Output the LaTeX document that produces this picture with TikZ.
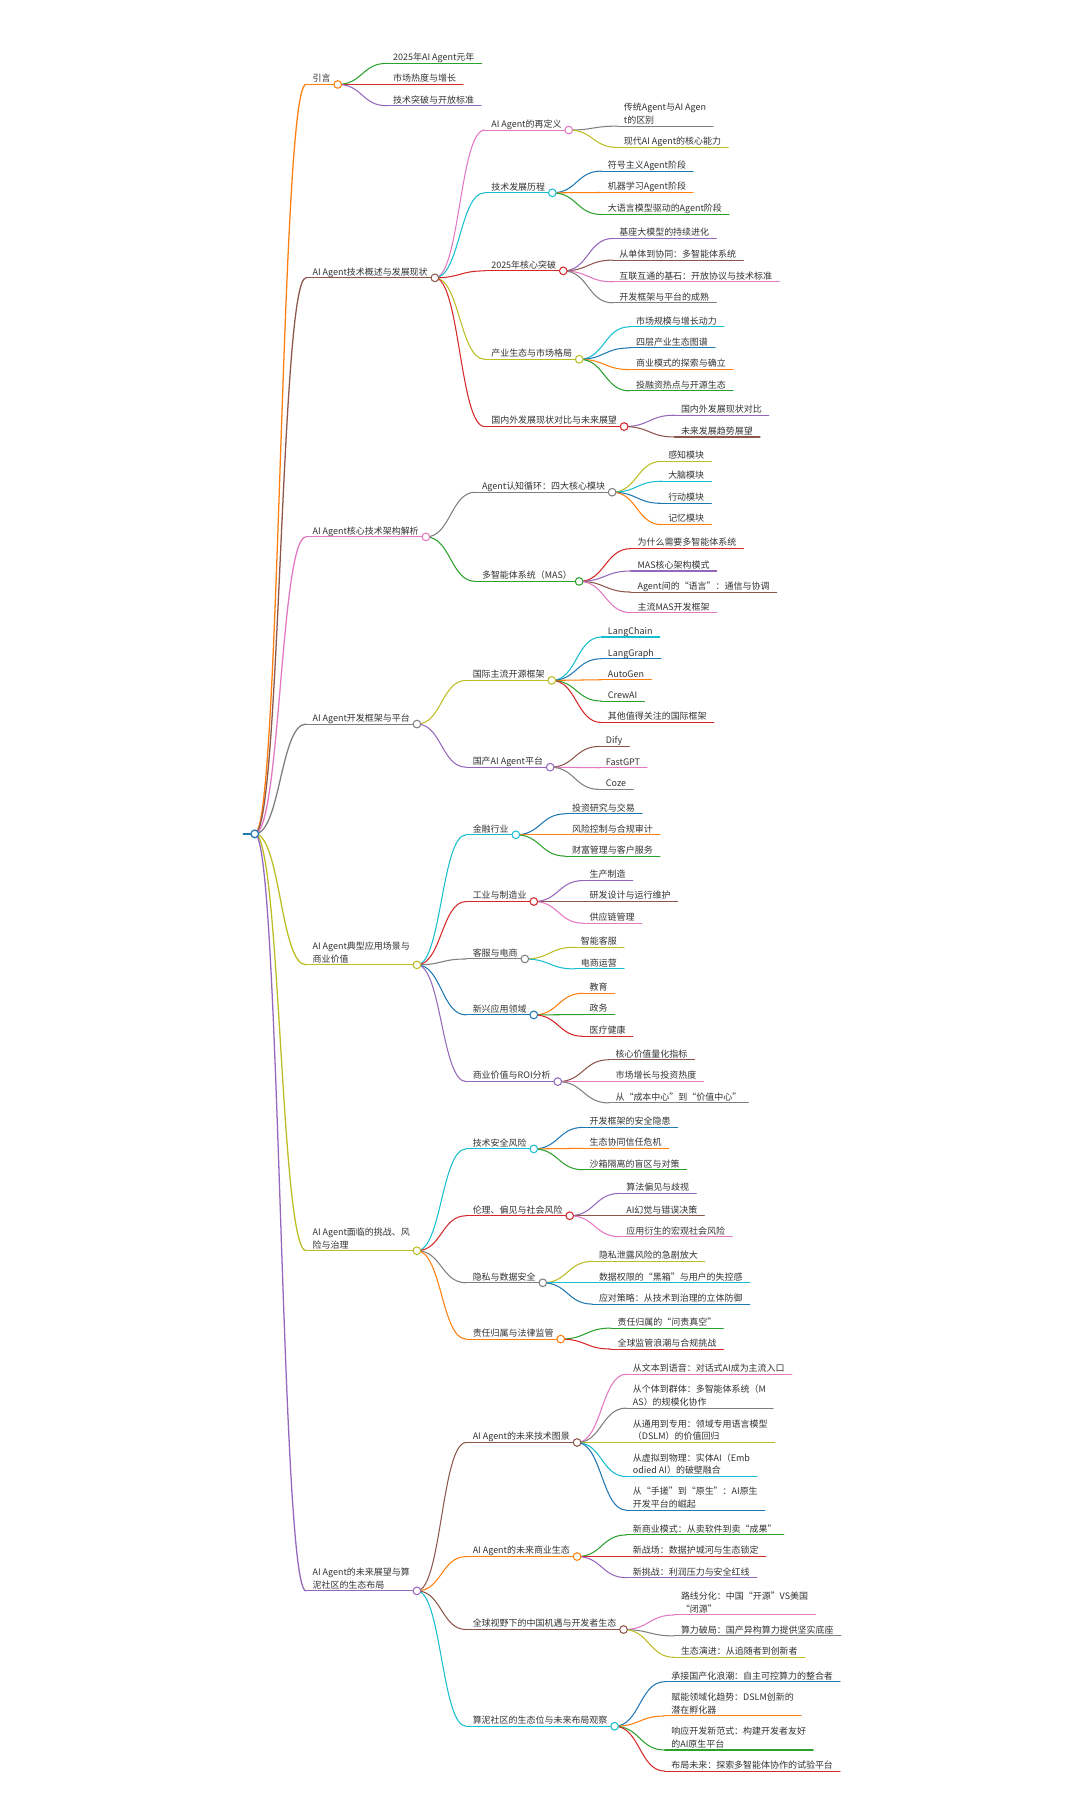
\documentclass[tikz,border=0pt]{standalone}
\usepackage{fontspec}
\setmainfont{Noto Sans CJK SC}
\usetikzlibrary{calc}
\definecolor{mblue}{HTML}{1F77B4}
\definecolor{morange}{HTML}{FF7F0E}
\definecolor{mgreen}{HTML}{2CA02C}
\definecolor{mred}{HTML}{D62728}
\definecolor{mpurple}{HTML}{9467BD}
\definecolor{mbrown}{HTML}{8C564B}
\definecolor{mpink}{HTML}{E377C2}
\definecolor{mgray}{HTML}{7F7F7F}
\definecolor{molive}{HTML}{BCBD22}
\definecolor{mcyan}{HTML}{17BECF}
\definecolor{txtc}{HTML}{333333}
\tikzset{
  mmtxt/.style={inner sep=0pt, anchor=base west, text=txtc, font=\fontsize{7.75}{11}\selectfont},
  mmline/.style={line width=0.9pt, line cap=round},
  mmroot/.style={line width=1.1pt, line cap=round},
}
\newcommand\mmnode[5]{%
  \node[mmtxt] (#1) at (#2,#3-2.3) {\begin{tabular}[b]{@{}l@{}}#5\end{tabular}};
  \path (#1.west |- 0,#3) ++(-5.5,0) coordinate (#1-s);
  \path (#1.east |- 0,#3) ++(6,0) coordinate (#1-e);
  \draw[mmline,#4] (#1-s) -- (#1-e);
}
\newcommand\mmedge[3]{%
  \path ($(#1-e)!0.5!(#2-s)$) coordinate (m#1#2);
  \draw[mmline,#3] (#1-e) .. controls (m#1#2 |- #1-e) and (m#1#2 |- #2-s) .. (#2-s);
}
\newcommand\mmdot[2]{%
  \draw[mmline,#2,fill=white] (#1-e) circle (3.3);
}
\begin{document}
\begin{tikzpicture}[x=1pt,y=-1pt]
\fill[white] (0,0) rectangle (933,1568);
\useasboundingbox (0,0) rectangle (933,1568);

% root
\coordinate (root-s) at (210,720);
\coordinate (root-e) at (220,720);
\draw[mmroot,mblue] (root-s) -- (root-e);

% level 1
\mmnode{n1}{269.7}{72.9}{morange}{引言}
\mmnode{n2}{269.7}{239.9}{mbrown}{AI Agent技术概述与发展现状}
\mmnode{n3}{269.7}{463.6}{mpink}{AI Agent核心技术架构解析}
\mmnode{n4}{269.7}{625.2}{mgray}{AI Agent开发框架与平台}
\mmnode{n5}{269.7}{833.1}{molive}{AI Agent典型应用场景与\\商业价值}
\mmnode{n6}{269.7}{1079.9}{molive}{AI Agent面临的挑战、风\\险与治理}
\mmnode{n7}{269.7}{1373.6}{mpurple}{AI Agent的未来展望与算\\泥社区的生态布局}

% n1
\mmnode{n1a}{339.3}{54.7}{mgreen}{2025年AI Agent元年}
\mmnode{n1b}{339.3}{72.9}{mred}{市场热度与增长}
\mmnode{n1c}{339.3}{91.3}{mpurple}{技术突破与开放标准}

% n2
\mmnode{n2a}{424}{112.3}{mpink}{AI Agent的再定义}
\mmnode{n2a1}{538.5}{108.9}{mgray}{传统Agent与AI Agen\\t的区别}
\mmnode{n2a2}{538.5}{127.3}{molive}{现代AI Agent的核心能力}
\mmnode{n2b}{424}{166.5}{mcyan}{技术发展历程}
\mmnode{n2b1}{524.7}{147.7}{mblue}{符号主义Agent阶段}
\mmnode{n2b2}{524.7}{166.2}{morange}{机器学习Agent阶段}
\mmnode{n2b3}{524.7}{185.2}{mgreen}{大语言模型驱动的Agent阶段}
\mmnode{n2c}{424}{233.9}{mred}{2025年核心突破}
\mmnode{n2c1}{534.6}{205.9}{mpurple}{基座大模型的持续进化}
\mmnode{n2c2}{534.6}{224.6}{mbrown}{从单体到协同：多智能体系统}
\mmnode{n2c3}{534.6}{243.3}{mpink}{互联互通的基石：开放协议与技术标准}
\mmnode{n2c4}{534.6}{261.5}{mgray}{开发框架与平台的成熟}
\mmnode{n2d}{424}{310.2}{molive}{产业生态与市场格局}
\mmnode{n2d1}{549}{282.2}{mcyan}{市场规模与增长动力}
\mmnode{n2d2}{549}{300.4}{mblue}{四层产业生态图谱}
\mmnode{n2d3}{549}{319.1}{morange}{商业模式的探索与确立}
\mmnode{n2d4}{549}{337.5}{mgreen}{投融资热点与开源生态}
\mmnode{n2e}{424}{368.3}{mred}{国内外发展现状对比与未来展望}
\mmnode{n2e1}{587.8}{358.5}{mpurple}{国内外发展现状对比}
\mmnode{n2e2}{587.8}{377.3}{mbrown}{未来发展趋势展望}

% n3
\mmnode{n3a}{416}{425}{mgray}{Agent认知循环：四大核心模块}
\mmnode{n3a1}{576.8}{398.3}{molive}{感知模块}
\mmnode{n3a2}{576.8}{415.5}{mcyan}{大脑模块}
\mmnode{n3a3}{576.8}{434.6}{mblue}{行动模块}
\mmnode{n3a4}{576.8}{453}{morange}{记忆模块}
\mmnode{n3b}{416}{502}{mgreen}{多智能体系统（MAS）}
\mmnode{n3b1}{550.3}{473.7}{mred}{为什么需要多智能体系统}
\mmnode{n3b2}{550.3}{493}{mpurple}{MAS核心架构模式}
\mmnode{n3b3}{550.3}{511.2}{mbrown}{Agent间的“语言”：通信与协调}
\mmnode{n3b4}{550.3}{529}{mpink}{主流MAS开发框架}

% n4
\mmnode{n4a}{408}{587.5}{molive}{国际主流开源框架}
\mmnode{n4a1}{524.7}{550}{mcyan}{LangChain}
\mmnode{n4a2}{524.7}{568.8}{mblue}{LangGraph}
\mmnode{n4a3}{524.7}{586.9}{morange}{AutoGen}
\mmnode{n4a4}{524.7}{605.3}{mgreen}{CrewAI}
\mmnode{n4a5}{524.7}{623.8}{mred}{其他值得关注的国际框架}
\mmnode{n4b}{408}{662.4}{mpurple}{国产AI Agent平台}
\mmnode{n4b1}{523}{644.5}{mbrown}{Dify}
\mmnode{n4b2}{523}{662.9}{mpink}{FastGPT}
\mmnode{n4b3}{523}{681.6}{mgray}{Coze}

% n5
\mmnode{n5a}{408}{720.8}{mcyan}{金融行业}
\mmnode{n5a1}{493.7}{702.7}{mblue}{投资研究与交易}
\mmnode{n5a2}{493.7}{720.8}{morange}{风险控制与合规审计}
\mmnode{n5a3}{493.7}{739.2}{mgreen}{财富管理与客户服务}
\mmnode{n5b}{408}{778.4}{mred}{工业与制造业}
\mmnode{n5b1}{509}{760.3}{mpurple}{生产制造}
\mmnode{n5b2}{509}{778.4}{mbrown}{研发设计与运行维护}
\mmnode{n5b3}{509}{797.1}{mpink}{供应链管理}
\mmnode{n5c}{408}{828}{mgray}{客服与电商}
\mmnode{n5c1}{501.4}{817.9}{molive}{智能客服}
\mmnode{n5c2}{501.4}{836.6}{mcyan}{电商运营}
\mmnode{n5d}{408}{876.3}{mblue}{新兴应用领域}
\mmnode{n5d1}{509}{857.6}{morange}{教育}
\mmnode{n5d2}{509}{876}{mgreen}{政务}
\mmnode{n5d3}{509}{894.8}{mred}{医疗健康}
\mmnode{n5e}{408}{933.9}{mpurple}{商业价值与ROI分析}
\mmnode{n5e1}{531.3}{915}{mbrown}{核心价值量化指标}
\mmnode{n5e2}{531.3}{933.9}{mpink}{市场增长与投资热度}
\mmnode{n5e3}{531.3}{952.3}{mgray}{从“成本中心”到“价值中心”}

% n6
\mmnode{n6a}{408}{992}{mcyan}{技术安全风险}
\mmnode{n6a1}{509}{973.4}{mblue}{开发框架的安全隐患}
\mmnode{n6a2}{509}{991.5}{morange}{生态协同信任危机}
\mmnode{n6a3}{509}{1010}{mgreen}{沙箱隔离的盲区与对策}
\mmnode{n6b}{408}{1049.7}{mred}{伦理、偏见与社会风险}
\mmnode{n6b1}{540.6}{1030.4}{mpurple}{算法偏见与歧视}
\mmnode{n6b2}{540.6}{1049.7}{mbrown}{AI幻觉与错误决策}
\mmnode{n6b3}{540.6}{1067.8}{mpink}{应用衍生的宏观社会风险}
\mmnode{n6c}{408}{1107.6}{mgray}{隐私与数据安全}
\mmnode{n6c1}{517}{1089.1}{molive}{隐私泄露风险的急剧放大}
\mmnode{n6c2}{517}{1107.6}{mcyan}{数据权限的“黑箱”与用户的失控感}
\mmnode{n6c3}{517}{1126}{mblue}{应对策略：从技术到治理的立体防御}
\mmnode{n6d}{408}{1156.2}{morange}{责任归属与法律监管}
\mmnode{n6d1}{533}{1146.7}{mgreen}{责任归属的“问责真空”}
\mmnode{n6d2}{533}{1164.8}{mred}{全球监管浪潮与合规挑战}

% n7
\mmnode{n7a}{408}{1245.5}{mbrown}{AI Agent的未来技术图景}
\mmnode{n7a1}{546.3}{1186.5}{mpink}{从文本到语音：对话式AI成为主流入口}
\mmnode{n7a2}{546.3}{1215.8}{mgray}{从个体到群体：多智能体系统（M\\AS）的规模化协作}
\mmnode{n7a3}{546.3}{1245.5}{molive}{从通用到专用：领域专用语言模型\\（DSLM）的价值回归}
\mmnode{n7a4}{546.3}{1274.9}{mcyan}{从虚拟到物理：实体AI（Emb\\odied AI）的破壁融合}
\mmnode{n7a5}{546.3}{1303.9}{mblue}{从“手搓”到“原生”：AI原生\\开发平台的崛起}
\mmnode{n7b}{408}{1344}{morange}{AI Agent的未来商业生态}
\mmnode{n7b1}{546.3}{1325.3}{mgreen}{新商业模式：从卖软件到卖“成果”}
\mmnode{n7b2}{546.3}{1344}{mred}{新战场：数据护城河与生态锁定}
\mmnode{n7b3}{546.3}{1362.2}{mpurple}{新挑战：利润压力与安全红线}
\mmnode{n7c}{408}{1407}{mbrown}{全球视野下的中国机遇与开发者生态}
\mmnode{n7c1}{587.8}{1394.4}{mpink}{路线分化：中国“开源”VS美国\\“闭源”}
\mmnode{n7c2}{587.8}{1412.5}{mgray}{算力破局：国产异构算力提供坚实底座}
\mmnode{n7c3}{587.8}{1431}{molive}{生态演进：从追随者到创新者}
\mmnode{n7d}{408}{1490.5}{mcyan}{算泥社区的生态位与未来布局观察}
\mmnode{n7d1}{579.5}{1452}{mblue}{承接国产化浪潮：自主可控算力的整合者}
\mmnode{n7d2}{579.5}{1481.6}{morange}{赋能领域化趋势：DSLM创新的\\潜在孵化器}
\mmnode{n7d3}{579.5}{1511}{mgreen}{响应开发新范式：构建开发者友好\\的AI原生平台}
\mmnode{n7d4}{579.5}{1529.2}{mred}{布局未来：探索多智能体协作的试验平台}

% edges root
\mmedge{root}{n1}{morange,mmroot}
\mmedge{root}{n2}{mbrown,mmroot}
\mmedge{root}{n3}{mpink,mmroot}
\mmedge{root}{n4}{mgray,mmroot}
\mmedge{root}{n5}{molive,mmroot}
\mmedge{root}{n6}{molive,mmroot}
\mmedge{root}{n7}{mpurple,mmroot}
% n1
\mmedge{n1}{n1a}{mgreen}
\mmedge{n1}{n1b}{mred}
\mmedge{n1}{n1c}{mpurple}
% n2
\mmedge{n2}{n2a}{mpink}
\mmedge{n2}{n2b}{mcyan}
\mmedge{n2}{n2c}{mred}
\mmedge{n2}{n2d}{molive}
\mmedge{n2}{n2e}{mred}
\mmedge{n2a}{n2a1}{mgray}
\mmedge{n2a}{n2a2}{molive}
\mmedge{n2b}{n2b1}{mblue}
\mmedge{n2b}{n2b2}{morange}
\mmedge{n2b}{n2b3}{mgreen}
\mmedge{n2c}{n2c1}{mpurple}
\mmedge{n2c}{n2c2}{mbrown}
\mmedge{n2c}{n2c3}{mpink}
\mmedge{n2c}{n2c4}{mgray}
\mmedge{n2d}{n2d1}{mcyan}
\mmedge{n2d}{n2d2}{mblue}
\mmedge{n2d}{n2d3}{morange}
\mmedge{n2d}{n2d4}{mgreen}
\mmedge{n2e}{n2e1}{mpurple}
\mmedge{n2e}{n2e2}{mbrown}
% n3
\mmedge{n3}{n3a}{mgray}
\mmedge{n3}{n3b}{mgreen}
\mmedge{n3a}{n3a1}{molive}
\mmedge{n3a}{n3a2}{mcyan}
\mmedge{n3a}{n3a3}{mblue}
\mmedge{n3a}{n3a4}{morange}
\mmedge{n3b}{n3b1}{mred}
\mmedge{n3b}{n3b2}{mpurple}
\mmedge{n3b}{n3b3}{mbrown}
\mmedge{n3b}{n3b4}{mpink}
% n4
\mmedge{n4}{n4a}{molive}
\mmedge{n4}{n4b}{mpurple}
\mmedge{n4a}{n4a1}{mcyan}
\mmedge{n4a}{n4a2}{mblue}
\mmedge{n4a}{n4a3}{morange}
\mmedge{n4a}{n4a4}{mgreen}
\mmedge{n4a}{n4a5}{mred}
\mmedge{n4b}{n4b1}{mbrown}
\mmedge{n4b}{n4b2}{mpink}
\mmedge{n4b}{n4b3}{mgray}
% n5
\mmedge{n5}{n5a}{mcyan}
\mmedge{n5}{n5b}{mred}
\mmedge{n5}{n5c}{mgray}
\mmedge{n5}{n5d}{mblue}
\mmedge{n5}{n5e}{mpurple}
\mmedge{n5a}{n5a1}{mblue}
\mmedge{n5a}{n5a2}{morange}
\mmedge{n5a}{n5a3}{mgreen}
\mmedge{n5b}{n5b1}{mpurple}
\mmedge{n5b}{n5b2}{mbrown}
\mmedge{n5b}{n5b3}{mpink}
\mmedge{n5c}{n5c1}{molive}
\mmedge{n5c}{n5c2}{mcyan}
\mmedge{n5d}{n5d1}{morange}
\mmedge{n5d}{n5d2}{mgreen}
\mmedge{n5d}{n5d3}{mred}
\mmedge{n5e}{n5e1}{mbrown}
\mmedge{n5e}{n5e2}{mpink}
\mmedge{n5e}{n5e3}{mgray}
% n6
\mmedge{n6}{n6a}{mcyan}
\mmedge{n6}{n6b}{mred}
\mmedge{n6}{n6c}{mgray}
\mmedge{n6}{n6d}{morange}
\mmedge{n6a}{n6a1}{mblue}
\mmedge{n6a}{n6a2}{morange}
\mmedge{n6a}{n6a3}{mgreen}
\mmedge{n6b}{n6b1}{mpurple}
\mmedge{n6b}{n6b2}{mbrown}
\mmedge{n6b}{n6b3}{mpink}
\mmedge{n6c}{n6c1}{molive}
\mmedge{n6c}{n6c2}{mcyan}
\mmedge{n6c}{n6c3}{mblue}
\mmedge{n6d}{n6d1}{mgreen}
\mmedge{n6d}{n6d2}{mred}
% n7
\mmedge{n7}{n7a}{mbrown}
\mmedge{n7}{n7b}{morange}
\mmedge{n7}{n7c}{mbrown}
\mmedge{n7}{n7d}{mcyan}
\mmedge{n7a}{n7a1}{mpink}
\mmedge{n7a}{n7a2}{mgray}
\mmedge{n7a}{n7a3}{molive}
\mmedge{n7a}{n7a4}{mcyan}
\mmedge{n7a}{n7a5}{mblue}
\mmedge{n7b}{n7b1}{mgreen}
\mmedge{n7b}{n7b2}{mred}
\mmedge{n7b}{n7b3}{mpurple}
\mmedge{n7c}{n7c1}{mpink}
\mmedge{n7c}{n7c2}{mgray}
\mmedge{n7c}{n7c3}{molive}
\mmedge{n7d}{n7d1}{mblue}
\mmedge{n7d}{n7d2}{morange}
\mmedge{n7d}{n7d3}{mgreen}
\mmedge{n7d}{n7d4}{mred}

% dots
\draw[mmroot,mblue,fill=white] (root-e) circle (3.3);
\mmdot{n1}{morange}
\mmdot{n2}{mbrown}
\mmdot{n3}{mpink}
\mmdot{n4}{mgray}
\mmdot{n5}{molive}
\mmdot{n6}{molive}
\mmdot{n7}{mpurple}
\mmdot{n2a}{mpink}
\mmdot{n2b}{mcyan}
\mmdot{n2c}{mred}
\mmdot{n2d}{molive}
\mmdot{n2e}{mred}
\mmdot{n3a}{mgray}
\mmdot{n3b}{mgreen}
\mmdot{n4a}{molive}
\mmdot{n4b}{mpurple}
\mmdot{n5a}{mcyan}
\mmdot{n5b}{mred}
\mmdot{n5c}{mgray}
\mmdot{n5d}{mblue}
\mmdot{n5e}{mpurple}
\mmdot{n6a}{mcyan}
\mmdot{n6b}{mred}
\mmdot{n6c}{mgray}
\mmdot{n6d}{morange}
\mmdot{n7a}{mbrown}
\mmdot{n7b}{morange}
\mmdot{n7c}{mbrown}
\mmdot{n7d}{mcyan}
\end{tikzpicture}
\end{document}
